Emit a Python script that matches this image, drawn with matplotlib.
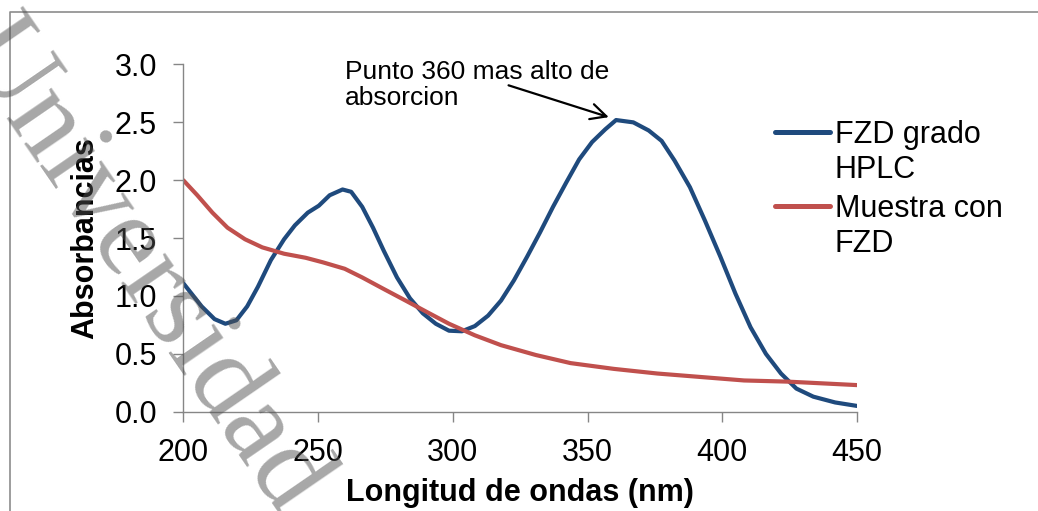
import matplotlib
matplotlib.use("Agg")
import matplotlib.pyplot as plt
from matplotlib.lines import Line2D
from matplotlib.ticker import FormatStrFormatter, MultipleLocator

# ---------------------------------------------------------------------------
# Data
# ---------------------------------------------------------------------------
hplc_nm = [200, 206.8, 211.6, 215.6, 219.7, 223.7, 227.7, 232.5, 237.4, 241.4,
           246.2, 250.3, 254.3, 259.1, 262.3, 266.4, 270.4, 274.4, 279.3,
           284.1, 288.9, 293.7, 298.6, 303.4, 308.2, 313.1, 317.9, 322.7,
           327.6, 332.4, 337.2, 342.1, 346.9, 351.7, 356.6, 360.6, 367.0,
           372.7, 377.5, 382.3, 388.0, 393.6, 399.3, 404.9, 410.5, 416.2,
           421.8, 427.5, 433.8, 441.9, 450]
hplc_abs = [1.11, 0.91, 0.80, 0.76, 0.79, 0.91, 1.08, 1.31, 1.49, 1.61,
            1.72, 1.78, 1.87, 1.92, 1.90, 1.77, 1.59, 1.39, 1.16,
            0.98, 0.85, 0.76, 0.70, 0.695, 0.74, 0.83, 0.96, 1.135,
            1.34, 1.55, 1.77, 1.98, 2.18, 2.33, 2.44, 2.52, 2.50,
            2.43, 2.34, 2.17, 1.94, 1.65, 1.34, 1.02, 0.73, 0.50,
            0.33, 0.20, 0.13, 0.08, 0.05]

muestra_nm = [200, 205.2, 210.8, 216.4, 222.9, 229.3, 237.4, 245.4, 251.9,
              259.9, 266.4, 274.4, 282.5, 290.5, 298.6, 308.2, 317.9, 330.8,
              343.7, 359.8, 375.9, 392.0, 408.1, 424.2, 450]
muestra_abs = [2.00, 1.87, 1.72, 1.59, 1.49, 1.42, 1.365, 1.33, 1.29,
               1.235, 1.16, 1.06, 0.96, 0.86, 0.76, 0.66, 0.575, 0.49,
               0.42, 0.37, 0.33, 0.30, 0.27, 0.26, 0.23]

series_labels = ["FZD grado\nHPLC", "Muestra con\nFZD"]
series_colors = ["#1f4a7d", "#c0504d"]

NOTE_TEXT = "Punto 360 mas alto de\nabsorcion"
NOTE_TEXT_POS = (260.1, 2.649)   # baseline of the last line
NOTE_TIP = (357.9, 2.545)
NOTE_TAIL = (320.7, 2.82)

WATERMARK = "Universidad"

plt.rcParams["font.family"] = ["Liberation Sans", "DejaVu Sans"]

fig = plt.figure(figsize=(10.38, 5.11), dpi=100)
ax = fig.add_axes([0.1766, 0.1943, 0.6490, 0.6795])

ax.plot(hplc_nm, hplc_abs, color=series_colors[0], lw=3.0,
        solid_capstyle="round", solid_joinstyle="round")
ax.plot(muestra_nm, muestra_abs, color=series_colors[1], lw=3.0,
        solid_capstyle="round", solid_joinstyle="round")

ax.set_xlim(200, 450)
ax.set_ylim(0, 3.0)
ax.xaxis.set_major_locator(MultipleLocator(50))
ax.yaxis.set_major_locator(MultipleLocator(0.5))
ax.yaxis.set_major_formatter(FormatStrFormatter("%.1f"))

axis_gray = "#868686"
for side in ["top", "right"]:
    ax.spines[side].set_visible(False)
for side in ["left", "bottom"]:
    ax.spines[side].set_color(axis_gray)
    ax.spines[side].set_linewidth(1.0)
ax.tick_params(axis="both", direction="out", length=7, width=1.0,
               color=axis_gray, labelsize=22, pad=12)

ax.set_xlabel("Longitud de ondas (nm)", fontsize=22, fontweight="bold",
              labelpad=7)
ax.set_ylabel("Absorbancias", fontsize=22, fontweight="bold", labelpad=10)

# annotation
ax.text(NOTE_TEXT_POS[0], NOTE_TEXT_POS[1], NOTE_TEXT, fontsize=19,
        ha="left", va="baseline", linespacing=1.1)
ax.annotate("", xy=NOTE_TIP, xytext=NOTE_TAIL,
            arrowprops=dict(arrowstyle="->", color="black", lw=1.6,
                            shrinkA=0, shrinkB=0, mutation_scale=28))

# legend, drawn by hand so the line sits on the first text line
leg_x0, leg_x1, leg_tx = 0.7466, 0.7996, 0.8044
leg_line_y = [0.7423, 0.5969]
leg_text_y = [0.6517, 0.5068]   # baseline of each label's last line
for lab, col, ly, ty in zip(series_labels, series_colors, leg_line_y, leg_text_y):
    fig.add_artist(Line2D([leg_x0, leg_x1], [ly, ly], transform=fig.transFigure,
                          color=col, lw=3.6, solid_capstyle="round"))
    fig.text(leg_tx, ty, lab, fontsize=22, ha="left", va="baseline",
             linespacing=1.2)

# chart frame (top and left edges visible)
frame_x, frame_y = 10 / 1038, 1 - 12 / 511
fig.add_artist(Line2D([frame_x, frame_x, 1.0], [0.0, frame_y, frame_y],
                      transform=fig.transFigure, color="#8c8c8c", lw=1.2))

# watermark
fig.text(-44 / 1038, 1 - 48 / 511, WATERMARK, fontsize=84,
         family="Liberation Serif", color="#505050", alpha=0.5,
         rotation=-55.5, rotation_mode="anchor", ha="left", va="baseline",
         zorder=10)

fig.savefig("out.png", dpi=100)
